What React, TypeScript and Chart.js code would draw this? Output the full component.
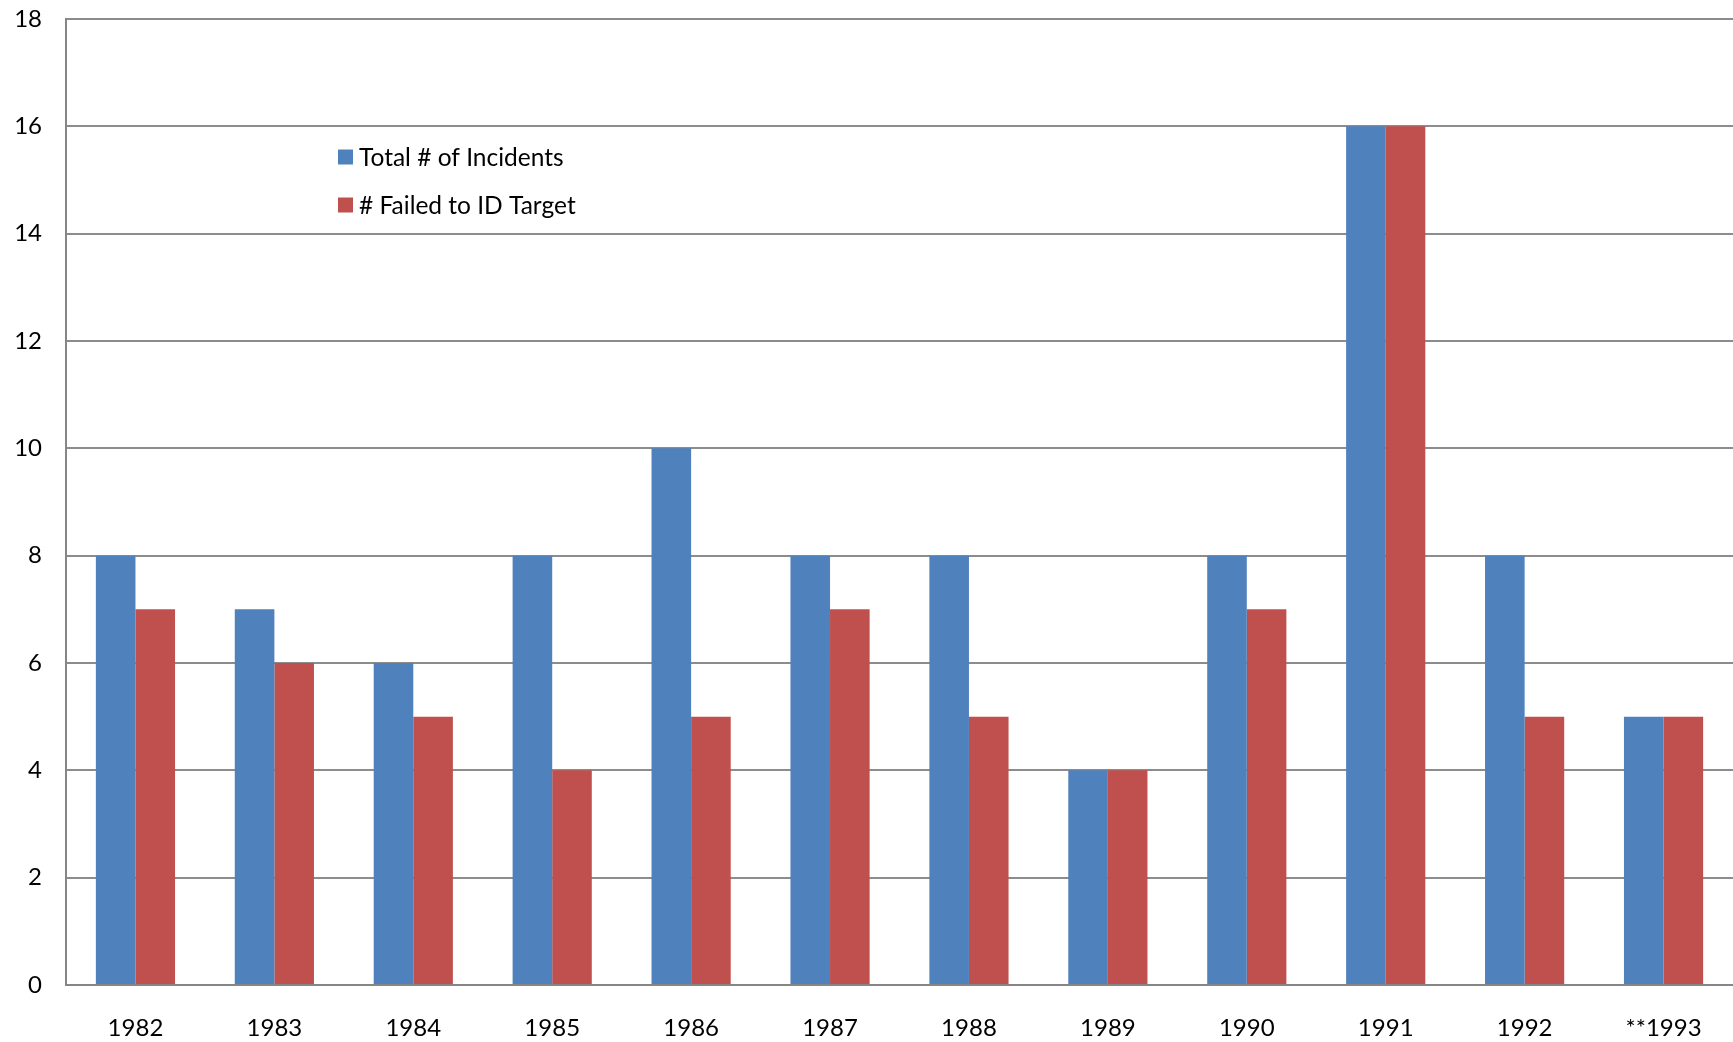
import React, { useEffect, useRef } from "react";
import { Chart, registerables } from "chart.js";

Chart.register(...registerables);

const years = ["1982", "1983", "1984", "1985", "1986", "1987", "1988", "1989", "1990", "1991", "1992", "**1993"];
const totalIncidents = [8, 7, 6, 8, 10, 8, 8, 4, 8, 16, 8, 5];
const failedToId = [7, 6, 5, 4, 5, 7, 5, 4, 7, 16, 5, 5];
const seriesNames = ["Total # of Incidents", "# Failed to ID Target"];
const seriesColors = ["#4F81BD", "#C0504D"];

const FONT = "Lato, 'Liberation Sans', sans-serif";

const legendPlugin = {
  id: "innerLegend",
  afterDraw(chart: any) {
    const { ctx, chartArea } = chart;
    const x0 = chartArea.left + 272;
    const y0 = chartArea.top + 138;
    ctx.save();
    ctx.font = `24.5px ${FONT}`;
    ctx.textBaseline = "middle";
    ctx.textAlign = "left";
    chart.data.datasets.forEach((ds: any, i: number) => {
      const y = y0 + i * 48;
      ctx.fillStyle = ds.backgroundColor;
      ctx.fillRect(x0, y - 7.5, 15, 15);
      ctx.fillStyle = "#000";
      ctx.fillText(ds.label, x0 + 21, y + 1);
    });
    ctx.restore();
  },
};

export default function App() {
  const ref = useRef<HTMLCanvasElement>(null);
  useEffect(() => {
    if (!ref.current) return;
    const chart = new Chart(ref.current, {
      type: "bar",
      data: {
        labels: years,
        datasets: [
          { label: seriesNames[0], data: totalIncidents, backgroundColor: seriesColors[0], borderWidth: 0 },
          { label: seriesNames[1], data: failedToId, backgroundColor: seriesColors[1], borderWidth: 0 },
        ],
      },
      options: {
        animation: false,
        responsive: false,
        maintainAspectRatio: false,
        layout: { padding: { top: 0, right: 0, left: 0, bottom: 0 } },
        plugins: { legend: { display: false }, tooltip: { enabled: false } },
        datasets: { bar: { categoryPercentage: 0.57, barPercentage: 1 } },
        scales: {
          x: {
            grid: { display: false, drawTicks: false },
            border: { display: true, color: "#868686", width: 2 },
            ticks: { color: "#000", font: { size: 24, family: FONT }, padding: 29, maxRotation: 0 },
            afterFit: (s: any) => { s.height = 57; s.paddingLeft = 0; s.paddingRight = 0; },
          },
          y: {
            min: 0,
            max: 18,
            grid: { color: "#8c8c8c", lineWidth: 2, drawTicks: false },
            border: { display: true, color: "#868686", width: 2 },
            ticks: { stepSize: 2, color: "#000", font: { size: 24, family: FONT }, padding: 24 },
            afterFit: (s: any) => { s.width = 66; s.paddingTop = 19; s.paddingBottom = 0; },
          },
        },
      },
      plugins: [legendPlugin],
    });
    return () => chart.destroy();
  }, []);
  return (
    <div style={{ position: "fixed", left: 0, top: 0, width: 1733, height: 1042, background: "#fff" }}>
      <canvas ref={ref} width={1733} height={1042} style={{ display: "block" }} />
    </div>
  );
}
